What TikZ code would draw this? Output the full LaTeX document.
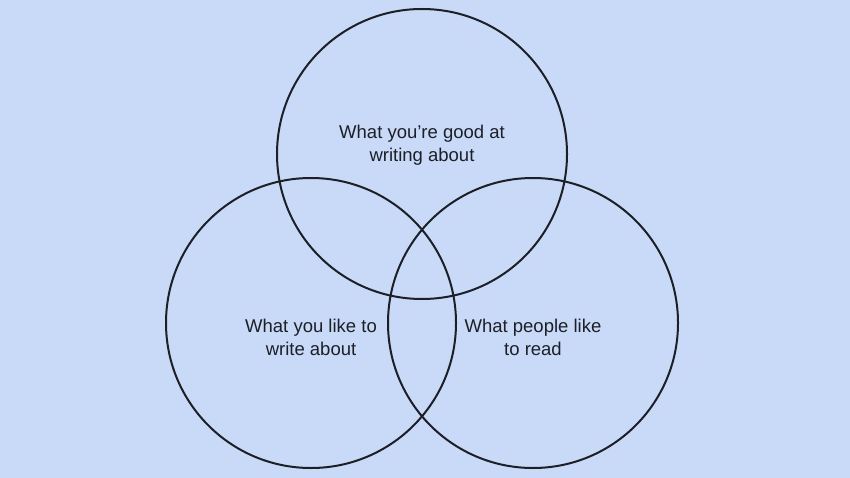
\documentclass[tikz,border=0pt]{standalone}
\usepackage{fontspec}
\setmainfont{Liberation Sans}
\definecolor{bgblue}{HTML}{C9DAF8}
\definecolor{inkdark}{HTML}{1C1F26}
\begin{document}
\begin{tikzpicture}[x=1pt, y=-1pt,
    ring/.style={circle, draw=inkdark, line width=2pt, minimum size=290pt, inner sep=0pt},
    caption/.style={text=inkdark, align=center, font=\fontsize{18.5}{23}\selectfont}]
    \fill[bgblue] (0, 0) rectangle (850, 478);
    \useasboundingbox (0, 0) rectangle (850, 478);
    % the three circles
    \node[ring] (good) at (422, 154) {};
    \node[ring] (like) at (311, 323) {};
    \node[ring] (read) at (533, 323) {};
    % their texts
    \node[caption] (goodtext) at (422, 145) {What you’re good at\\writing about};
    \node[caption] (liketext) at (311, 337) {What you like to\\write about};
    \node[caption] (readtext) at (533, 337) {What people like\\to read};
\end{tikzpicture}
\end{document}
